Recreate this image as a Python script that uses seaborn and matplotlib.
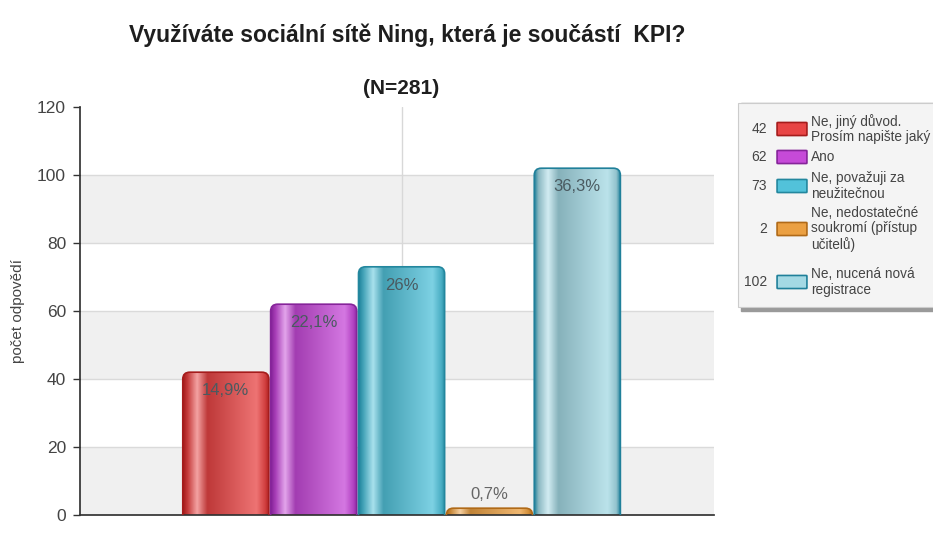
import matplotlib
matplotlib.use("Agg")
import matplotlib.pyplot as plt
import matplotlib.colors as mcolors
import numpy as np
import seaborn as sns
import pandas as pd
from matplotlib.patches import FancyBboxPatch, Rectangle

# data
categories = ["Ne, jiný důvod.\nProsím napište jaký", "Ano", "Ne, považuji za\nneužitečnou",
              "Ne, nedostatečné\nsoukromí (přístup\nučitelů)", "Ne, nucená nová\nregistrace"]
counts = [42, 62, 73, 2, 102]
pct_labels = ["14,9%", "22,1%", "26%", "0,7%", "36,3%"]
colors = ["#e84545", "#c64ad8", "#52c2da", "#eba042", "#a4d9e4"]
edge_colors = ["#a51c1c", "#86249a", "#23879e", "#b06a18", "#20809a"]
yticks = [0, 20, 40, 60, 80, 100, 120]

df = pd.DataFrame({"cat": categories, "count": counts})

sns.set_theme(style="white")
plt.rcParams["font.family"] = ["Liberation Sans", "DejaVu Sans"]

fig = plt.figure(figsize=(9.33, 5.34), dpi=100)
ax = fig.add_axes([0.0857, 0.0356, 0.680, 0.764])

# alternating background bands
for lo in range(0, 120, 40):
    ax.axhspan(lo, lo + 20, color="#f0f0f0", zorder=0, lw=0)
for t in yticks[1:-1]:
    ax.axhline(t, color="#dadada", lw=1, zorder=0.5)
ax.axvline(2, color="#d8d8d8", lw=1, zorder=0.5)

sns.barplot(data=df, x="cat", y="count", hue="cat", palette=colors, legend=False,
            width=0.98, ax=ax, zorder=2, saturation=1)

XLIM = (-1.66, 5.56)
YLIM = (0, 120)
ax.set_xlim(*XLIM)
ax.set_ylim(*YLIM)

# aspect between x and y data units in pixels, for rounded bar tops
bbox = ax.get_window_extent()
px_x = bbox.width / (XLIM[1] - XLIM[0])
px_y = bbox.height / (YLIM[1] - YLIM[0])


def shade(col, edge):
    base = np.array(mcolors.to_rgb(col))
    dark = np.array(mcolors.to_rgb(edge))
    white = np.ones(3)
    stops = [(0.0, dark), (0.05, base * 0.85), (0.16, base * 0.5 + white * 0.5),
             (0.28, base * 0.82), (0.85, base * 0.75 + white * 0.25),
             (0.95, base * 0.9), (1.0, dark)]
    t = np.linspace(0, 1, 120)
    rgb = np.stack([np.interp(t, [s[0] for s in stops], [s[1][k] for s in stops])
                    for k in range(3)], axis=-1)
    return np.clip(rgb[None, :, :], 0, 1)


bars = [p for cont in ax.containers for p in cont]
for bar, col, ec in zip(bars, colors, edge_colors):
    x0, w, h = bar.get_x(), bar.get_width(), bar.get_height()
    bar.set_visible(False)
    r = 7 / px_x
    rounded = FancyBboxPatch((x0, -4), w, h + 4,
                             boxstyle=f"round,pad=0,rounding_size={r}",
                             mutation_aspect=px_x / px_y,
                             facecolor="none", edgecolor=ec, lw=1.2, zorder=3)
    ax.add_patch(rounded)
    im = ax.imshow(shade(col, ec), extent=[x0, x0 + w, -4, h], aspect="auto",
                   zorder=2, interpolation="bilinear")
    im.set_clip_path(rounded)

for i, (c, lab) in enumerate(zip(counts, pct_labels)):
    if c > 10:
        ax.text(i, c - 5.5, lab, ha="center", va="center", fontsize=12, color="#4a5a60", zorder=4)
    else:
        ax.text(i, c + 4, lab, ha="center", va="center", fontsize=12, color="#666666", zorder=4)

ax.set_xlim(*XLIM)
ax.set_ylim(*YLIM)
ax.set_yticks(yticks)
ax.set_yticklabels([str(t) for t in yticks], fontsize=12.5, color="#444444")
ax.set_xticks([])
ax.set_xlabel("")
ax.set_ylabel("počet odpovědí", fontsize=11, color="#444444", labelpad=9)
ax.tick_params(axis="y", length=5, width=1, color="#333333", left=True, pad=5)
for s in ["top", "right"]:
    ax.spines[s].set_visible(False)
ax.spines["left"].set_color("#333333")
ax.spines["bottom"].set_color("#333333")

fig.text(0.437, 0.934, "Využíváte sociální sítě Ning, která je součástí  KPI?",
         ha="center", va="center", fontsize=16.5, fontweight="bold", color="#1e1e1e")
fig.text(0.43, 0.835, "(N=281)", ha="center", va="center", fontsize=15,
         fontweight="bold", color="#1e1e1e")

# legend box
W, H = 933, 534
def fx(px): return px / W
def fy(py): return 1 - py / H

shadow = Rectangle((fx(741), fy(311)), fx(200), fy(103) - fy(311), transform=fig.transFigure,
                   color="#9a9a9a", zorder=1)
box = Rectangle((fx(738), fy(307)), fx(200), fy(103) - fy(307), transform=fig.transFigure,
                facecolor="#f4f4f4", edgecolor="#cccccc", lw=0.8, zorder=2)
fig.patches.extend([shadow, box])

leg_y = [129, 157, 186, 229, 282]
for yy, c, cat, col, ec in zip(leg_y, counts, categories, colors, edge_colors):
    fig.text(fx(767), fy(yy), str(c), ha="right", va="center", fontsize=10, color="#444444", zorder=3)
    p = FancyBboxPatch((fx(778), fy(yy + 6)), fx(28), 12 / H, boxstyle="round,pad=0.001",
                       transform=fig.transFigure, facecolor=col, edgecolor=ec, lw=1.2, zorder=3)
    fig.patches.append(p)
    fig.text(fx(811), fy(yy), cat, ha="left", va="center", fontsize=9.8, color="#444444",
             linespacing=1.1, zorder=3)

fig.savefig("out.png", dpi=100)
